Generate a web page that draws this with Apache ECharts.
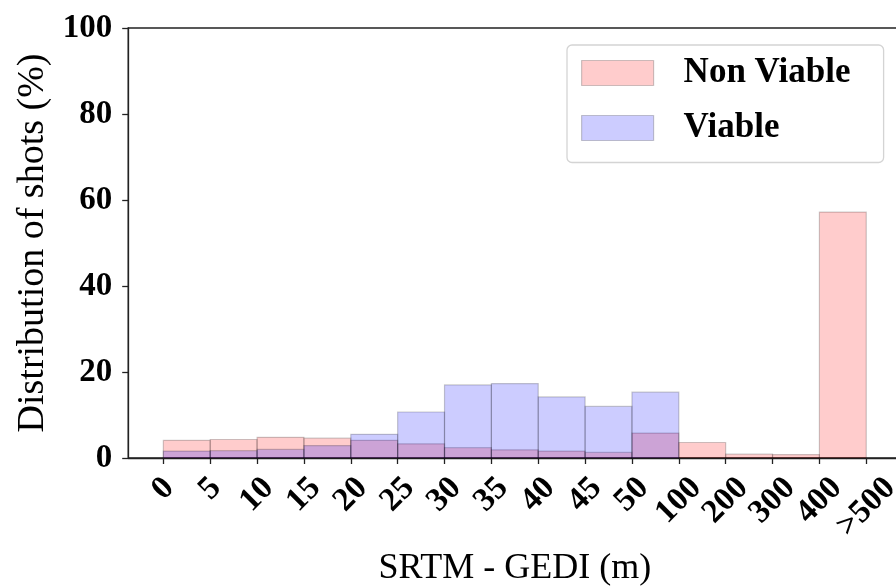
<!DOCTYPE html>
<html>
<head>
<meta charset="utf-8">
<style>
  html, body { margin: 0; padding: 0; background: #fff; }
  #chart { width: 896px; height: 588px; }
</style>
<script src="https://cdn.jsdelivr.net/npm/echarts@6/dist/echarts.min.js"></script>
</head>
<body>
<div id="chart"></div>
<script>
// Histogram bin edges (one label per edge) and the share of shots per bin, in %.
const tickLabels = ['0', '5', '10', '15', '20', '25', '30', '35', '40', '45', '50', '100', '200', '300', '400', '>500'];
const nonViable = [4.1, 4.3, 4.8, 4.6, 4.1, 3.3, 2.4, 1.9, 1.6, 1.3, 5.8, 3.6, 0.9, 0.8, 57.2];
const viable    = [1.6, 1.7, 2.0, 2.9, 5.5, 10.7, 17.0, 17.3, 14.2, 12.0, 15.3, 0, 0, 0, 0];
const yTicks = [0, 20, 40, 60, 80, 100];

const SERIF = '"Liberation Serif", "Times New Roman", serif';
const TICK_SIZE = 33;

// Bins sit between consecutive edges: bin i spans [i, i + 1] on the x axis.
function toBins(values) {
  return values.map((v, i) => [i, i + 1, v]);
}

// Rotated tick labels are centred under their tick, with longer labels pushed
// further down so the top of every rotated label lines up with the others.
const measureCtx = document.createElement('canvas').getContext('2d');
measureCtx.font = 'bold ' + TICK_SIZE + 'px ' + SERIF;
const labelWidths = tickLabels.map(t => measureCtx.measureText(t).width);
const minWidth = Math.min.apply(null, labelWidths);
const richTicks = {};
labelWidths.forEach((w, i) => {
  const p = (w - minWidth) / 2;
  richTicks['t' + i] = {
    fontFamily: SERIF, fontWeight: 'bold', fontSize: TICK_SIZE, color: '#000',
    padding: [p, p, 0, 0]
  };
});

function histSeries(name, values, fill) {
  return {
    name: name,
    type: 'custom',
    data: toBins(values),
    encode: { x: [0, 1], y: 2 },
    renderItem: function (params, api) {
      const p0 = api.coord([api.value(0), 0]);
      const p1 = api.coord([api.value(1), api.value(2)]);
      return {
        type: 'rect',
        shape: { x: p0[0], y: p1[1], width: p1[0] - p0[0], height: p0[1] - p1[1] },
        style: { fill: fill, stroke: 'rgba(0,0,0,0.2)', lineWidth: 1.2 }
      };
    }
  };
}

const PINK = 'rgba(255,0,0,0.2)';
const BLUE = 'rgba(0,0,255,0.2)';

const chart = echarts.init(document.getElementById('chart'), null, { renderer: 'canvas' });
chart.setOption({
  animation: false,
  backgroundColor: '#fff',
  grid: {
    left: 128.2, top: 28, width: 773.2, height: 430,
    show: true, borderColor: '#222', borderWidth: 1.3, backgroundColor: 'transparent',
    outerBoundsMode: 'none'
  },
  legend: {
    left: 567, top: 45,
    orient: 'vertical',
    padding: [10.5, 15, 17, 14],
    itemWidth: 72, itemHeight: 25, itemGap: 20,
    borderColor: '#d4d4d4', borderWidth: 1.3, borderRadius: 5,
    backgroundColor: '#fff',
    selectedMode: false,
    textStyle: {
      fontFamily: SERIF, fontWeight: 'bold', fontSize: 35, color: '#000',
      lineHeight: 30, width: 185, padding: [0, 0, 0, 25]
    },
    data: [
      { name: 'Non Viable', icon: 'rect', itemStyle: { color: PINK, borderColor: 'rgba(0,0,0,0.2)', borderWidth: 1.2 } },
      { name: 'Viable', icon: 'rect', itemStyle: { color: BLUE, borderColor: 'rgba(0,0,0,0.2)', borderWidth: 1.2 } }
    ]
  },
  xAxis: {
    type: 'value',
    min: -0.75, max: 15.75,
    splitLine: { show: false },
    axisLine: { show: true, onZero: false, lineStyle: { color: '#222', width: 1.3 } },
    axisTick: { show: true, length: 6, customValues: tickLabels.map((_, i) => i), lineStyle: { color: '#222', width: 1.3 } },
    axisLabel: {
      customValues: tickLabels.map((_, i) => i),
      rotate: 45, align: 'center', verticalAlign: 'middle', margin: 31,
      hideOverlap: false,
      formatter: function (v) { const i = Math.round(v); return '{t' + i + '|' + tickLabels[i] + '}'; },
      rich: richTicks
    },
    name: 'SRTM - GEDI (m)',
    nameLocation: 'middle',
    nameGap: 93,
    nameTextStyle: { fontFamily: SERIF, fontSize: 36, color: '#000' }
  },
  yAxis: {
    type: 'value',
    min: 0, max: 100, interval: 20,
    splitLine: { show: false },
    axisLine: { show: true, onZero: false, lineStyle: { color: '#222', width: 1.3 } },
    axisTick: { show: true, length: 6, lineStyle: { color: '#222', width: 1.3 } },
    axisLabel: {
      margin: 16,
      fontFamily: SERIF, fontWeight: 'bold', fontSize: TICK_SIZE, color: '#000',
      formatter: function (v) { return yTicks.indexOf(v) >= 0 ? String(v) : ''; }
    },
    name: 'Distribution of shots (%)',
    nameLocation: 'middle',
    nameGap: 76,
    nameTextStyle: { fontFamily: SERIF, fontSize: 38, color: '#000' }
  },
  series: [
    histSeries('Non Viable', nonViable, PINK),
    histSeries('Viable', viable, BLUE)
  ]
});
</script>
</body>
</html>
